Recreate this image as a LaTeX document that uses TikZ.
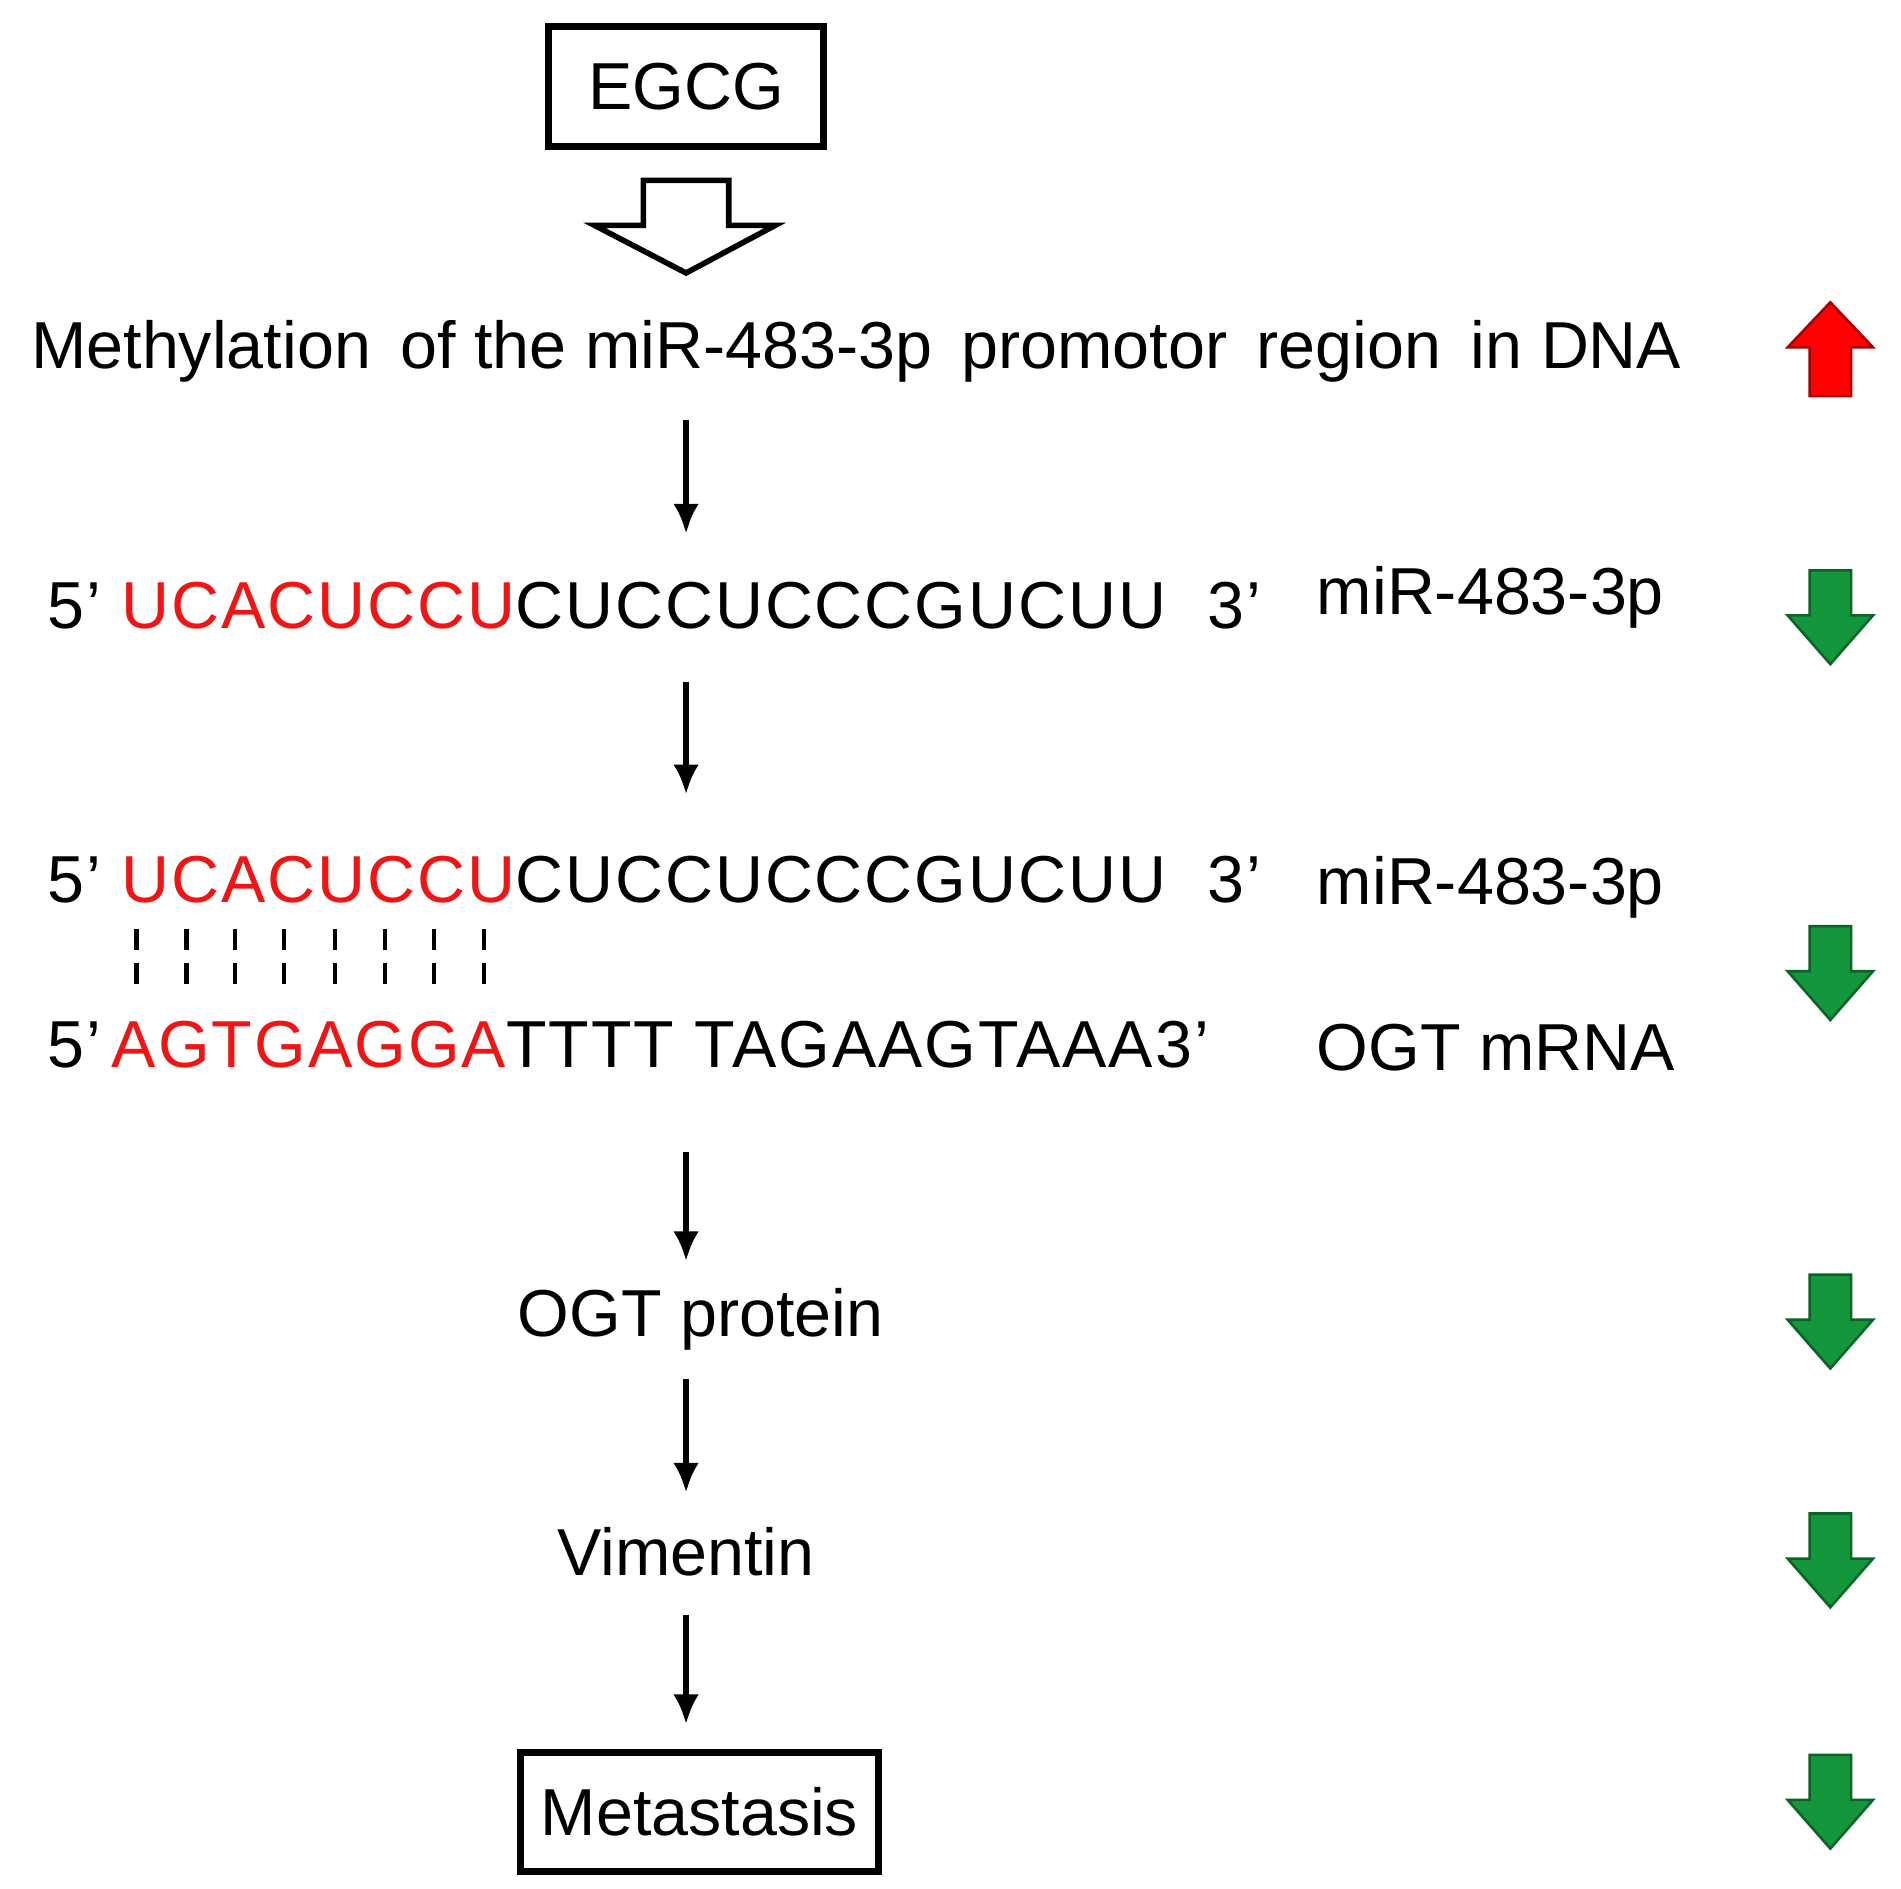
\documentclass[tikz,border=0pt]{standalone}
\usepackage{fontspec}
\setmainfont{Liberation Sans}
\usetikzlibrary{arrows.meta}
\begin{document}
\begin{tikzpicture}[x=0.01cm,y=-0.01cm,
  txt/.style={inner sep=0pt,font=\fontsize{15.5}{18}\selectfont},
  seq/.style={inner sep=0pt,font=\fontsize{15.5}{18}\selectfont\addfontfeature{LetterSpace=3}},
  box/.style={draw,line width=1.6pt,minimum width=2.26cm,minimum height=0.98cm,font=\fontsize{15.5}{18}\selectfont},
  ar/.style={-{Latex[length=7pt,width=6pt]},line width=1.3pt},
  gr/.style={fill={rgb,255:red,20;green,150;blue,60},draw={rgb,255:red,10;green,100;blue,40},line width=0.6pt},
  rd/.style={fill=red,draw={rgb,255:red,170;green,0;blue,0},line width=0.6pt}]
\useasboundingbox (0,0) rectangle (1560,1550);
\definecolor{seqred}{RGB}{240,20,20}
\node[box] (egcg) at (563,71) {EGCG};
\draw[line width=1.3pt,fill=white] (528,148)--(598,148)--(598,185)--(636,185)--(563,224)--(488,185)--(528,185)--cycle;
\node[txt,anchor=west] (meth) at (25,288) {Methylation\ \,of the miR-483-3p\ \,promotor\ \,region\ \,in DNA};
\draw[rd] (1485,325)--(1519,325)--(1519,285)--(1537,285)--(1502,248)--(1467,285)--(1485,285)--cycle;
\newcommand{\garrow}[1]{\draw[gr] (1485,#1)--(1519,#1)--(1519,#1+37)--(1537,#1+37)--(1502,#1+77)--(1467,#1+37)--(1485,#1+37)--cycle;}
\coordinate (a1s) at (563,345); \coordinate (a1e) at (563,438);
\draw[ar] (a1s)--(a1e);
\node[seq,anchor=west] (s1) at (38,497) {5’ \textcolor{seqred}{UCACUCCU}CUCCUCCCGUCUU\ \ 3’};
\node[txt,anchor=west] (m1) at (1080,490) {miR-483-3p};
\garrow{468}
\coordinate (a2s) at (563,560); \coordinate (a2e) at (563,652);
\draw[ar] (a2s)--(a2e);
\node[seq,anchor=west] (s2) at (38,722) {5’ \textcolor{seqred}{UCACUCCU}CUCCUCCCGUCUU\ \ 3’};
\node[txt,anchor=west] (m2) at (1080,728) {miR-483-3p};
\foreach \x in {112,153,193,233,275,316,356,397} \draw[line width=1pt,dash pattern=on 5pt off 3pt] (\x,762)--(\x,815);
\node[seq,anchor=west] (s3) at (38,857) {5’\,\textcolor{seqred}{AGTGAGGA}TTTT TAGAAGTAAA3’};
\node[txt,anchor=west] (ogt) at (1080,860) {OGT mRNA};
\garrow{760}
\coordinate (a3s) at (563,945); \coordinate (a3e) at (563,1035);
\draw[ar] (a3s)--(a3e);
\node[txt] (prot) at (575,1083) {OGT protein};
\garrow{1046}
\coordinate (a4s) at (563,1132); \coordinate (a4e) at (563,1225);
\draw[ar] (a4s)--(a4e);
\node[txt] (vim) at (563,1273) {Vimentin};
\garrow{1242}
\coordinate (a5s) at (563,1325); \coordinate (a5e) at (563,1415);
\draw[ar] (a5s)--(a5e);
\node[box,minimum width=2.94cm] (met) at (574,1487) {Metastasis};
\garrow{1440}
\end{tikzpicture}
\end{document}
